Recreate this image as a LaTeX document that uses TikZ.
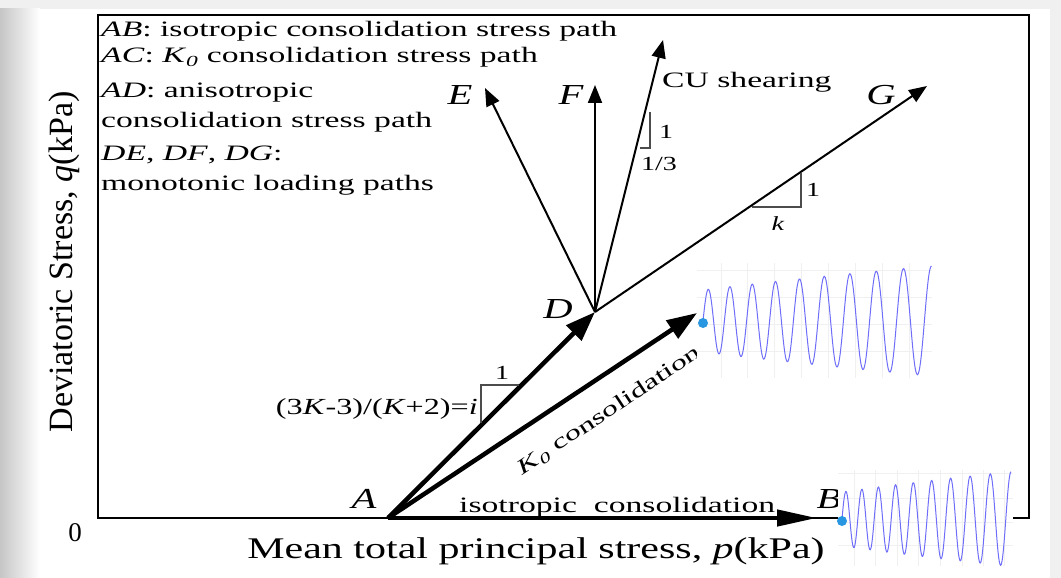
\documentclass[tikz,border=0pt]{standalone}
\usepackage{fontspec}
\setmainfont{Liberation Serif}[FakeStretch=1.4]
\newfontfamily\legfont{Liberation Serif}[FakeStretch=1.53]
\newfontfamily\vfont{Liberation Serif}
\usetikzlibrary{arrows.meta}
\definecolor{cycblue}{RGB}{110,110,250}
\definecolor{dotblue}{RGB}{40,150,225}
\begin{document}
\begin{tikzpicture}[x=1pt,y=-1pt,
  leg/.style={anchor=base west,inner sep=0pt,font=\legfont\fontsize{22}{24}\selectfont},
  ptlbl/.style={anchor=base,inner sep=0pt,font=\fontsize{29}{30}\selectfont\itshape},
  num/.style={anchor=base,inner sep=0pt,font=\fontsize{20}{22}\selectfont},
  fat/.style={line width=4.5pt,-{Triangle[length=30pt,width=21pt]}},
  load/.style={line width=2pt,-{Triangle[length=18pt,width=14pt]}},
  slope/.style={draw=black!70,line width=1.5pt},
  cycgrid/.style={draw=gray!12,line width=0.8pt},
  cyc/.style={cycblue,line width=1pt}]
\useasboundingbox (0,0) rectangle (1061,578);
% slide background
\fill[gray!12] (0,0) rectangle (1061,578);
\shade[left color=gray!45,right color=white] (0,9) rectangle (40,578);
\fill[white] (40,9) rectangle (1050,578);
% frame
\draw[line width=2.5pt] (98,15) rectangle (1029,518);
\coordinate (A) at (388,518); \coordinate (B) at (817,518); \coordinate (C) at (697,313);
\coordinate (D) at (595,312); \coordinate (E) at (485,88); \coordinate (F) at (595,85);
\coordinate (CU) at (663,40); \coordinate (G) at (927,86);
% consolidation paths
\draw[fat,-{Triangle[length=40pt,width=16pt]}] (A) -- (B);
\draw[fat] (A) -- (D); \draw[fat] (A) -- (C);
% shearing paths
\draw[load] (D) -- (E); \draw[load] (D) -- (F); \draw[load] (D) -- (CU); \draw[load] (D) -- (G);
% slopes
\draw[slope] (481,423) -- (481,385) -- (519,385);
\draw[slope] (650,112) -- (650,148) -- (640,148);
\draw[slope] (752,207) -- (801,207) -- (801,173);
\node[num] (oneAD) at (502,379) {1};
\node[num,anchor=base east,font=\fontsize{23}{24}\selectfont] (ratio) at (478,414) {(3\textit{K}-3)/(\textit{K}+2)=\textit{i}};
\node[num] (oneCU) at (666,138) {1}; \node[num] (third) at (659,170) {1/3};
\node[num] (oneDG) at (813,196) {1}; \node[num] (kDG) at (778,230) {\textit{k}};
% point labels
\node[ptlbl] (lblA) at (364,508) {A}; \node[ptlbl] (lblB) at (829,508) {B};
\node[ptlbl] (lblD) at (558,318) {D}; \node[ptlbl] (lblE) at (460,105) {E};
\node[ptlbl] (lblF) at (571,105) {F}; \node[ptlbl] (lblG) at (881,105) {G};
\node[leg] (cu) at (662,88) {CU shearing};
\node[leg] (iso) at (459,512) {isotropic\ \ consolidation};
\node[leg,anchor=center,rotate=33.6,font=\legfont\fontsize{21}{24}\selectfont] (kzero) at (609,411) {\textit{K}\textsubscript{\textit{0}} consolidation};
% legend
\node[leg] (lAB) at (101,37) {\textit{AB}: isotropic consolidation stress path};
\node[leg] (lAC) at (101,63) {\textit{AC}: \textit{K}\textsubscript{\textit{0}} consolidation stress path};
\node[leg] (lAD) at (101,97) {\textit{AD}: anisotropic};
\node[leg] (lADb) at (101,128) {consolidation stress path};
\node[leg] (lDE) at (101,160) {\textit{DE}, \textit{DF}, \textit{DG}:};
\node[leg] (lDEb) at (101,190) {monotonic loading paths};
% axes
\node[anchor=base,inner sep=0pt,font=\fontsize{30}{32}\selectfont] (xlab) at (536,558) {Mean total principal stress, \textit{p}(kPa)};
\node[rotate=90,inner sep=0pt,font=\vfont\fontsize{34}{36}\selectfont] (ylab) at (64,262) {Deviatoric Stress, \textit{q}(kPa)};
\node[anchor=base,inner sep=0pt,font=\vfont\fontsize{27}{28}\selectfont] (zero) at (75,541) {0};
% cyclic records
\fill[white] (697,263) rectangle (932,378);
\foreach \yy in {270,297,324,351} \draw[cycgrid] (697,\yy) -- (932,\yy);
\foreach \xx in {721,747,774,801,828,855,882,909} \draw[cycgrid] (\xx,263) -- (\xx,378);
\draw[cyc] plot[domain=0:9.25,samples=300,smooth] ({703+21*\x+0.4*\x*\x},{321-(31+2.6*\x)*sin(360*\x)});
\fill[dotblue] (703,323) circle (5);
\fill[white] (838,470) rectangle (1013,566);
\foreach \yy in {473,498,522,545} \draw[cycgrid] (838,\yy) -- (1013,\yy);
\foreach \xx in {854,875,897,918,940,962,983,1004} \draw[cycgrid] (\xx,470) -- (\xx,566);
\draw[cyc] plot[domain=0:9.25,samples=300,smooth] ({842+15.5*\x+0.3*\x*\x},{519-(27+2.2*\x)*sin(360*\x)});
\fill[dotblue] (842,521) circle (5);
\end{tikzpicture}
\end{document}
